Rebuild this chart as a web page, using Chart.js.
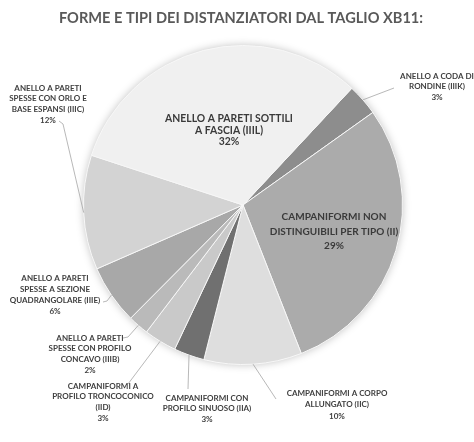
<!DOCTYPE html>
<html>
<head>
<meta charset="utf-8">
<script src="https://cdn.jsdelivr.net/npm/chart.js@4.4.1/dist/chart.umd.min.js"></script>
<style>
  html, body { margin: 0; padding: 0; background: #fff; }
  #wrap { width: 474px; height: 442px; }
</style>
</head>
<body>
<div id="wrap"><canvas id="pie"></canvas></div>
<script>
const titleText = "FORME E TIPI DEI DISTANZIATORI DAL TAGLIO XB11:";

// slices in clockwise order, starting from the small dark one on the upper right
const categories = [
  ["ANELLO A CODA DI", "RONDINE (IIIK)"],
  ["CAMPANIFORMI NON", "DISTINGUIBILI PER TIPO (II)"],
  ["CAMPANIFORMI A CORPO", "ALLUNGATO (IIC)"],
  ["CAMPANIFORMI CON", "PROFILO SINUOSO (IIA)"],
  ["CAMPANIFORMI A", "PROFILO TRONCOCONICO", "(IID)"],
  ["ANELLO A PARETI", "SPESSE CON PROFILO", "CONCAVO (IIIB)"],
  ["ANELLO A PARETI", "SPESSE A SEZIONE", "QUADRANGOLARE (IIIE)"],
  ["ANELLO A PARETI", "SPESSE CON ORLO E", "BASE ESPANSI (IIIC)"],
  ["ANELLO A PARETI SOTTILI", "A FASCIA (IIIL)"],
];
const shares = [3.2, 28.9, 9.9, 3.1, 3.3, 2.1, 6.0, 11.6, 31.9];

const sliceColors = [
  "#8d8d8d", "#ababab", "#dedede", "#707070", "#c9c9c9",
  "#bababa", "#a8a8a8", "#d3d3d3", "#f0f0f0",
];

// where each label sits; leader lines run from the slice edge to the last point
const labelLayout = [
  { x: 437, y: 76, lh: 10.5, leader: [[394, 88]] },
  { x: 334, y: 217, lh: 14.5, inside: true, size: 10 },
  { x: 337, y: 393, lh: 11.5, leader: [[276, 399]] },
  { x: 207, y: 398, lh: 10.5, leader: [[188, 389]] },
  { x: 103, y: 386, lh: 10.7, leader: [[128, 384]] },
  { x: 90, y: 338, lh: 10.7, leader: [[123, 338], [128, 337]] },
  { x: 55, y: 278, lh: 11, leader: [[103, 302], [107, 301]] },
  { x: 48, y: 88, lh: 10.7, leader: [[59, 121], [63, 124]] },
  { x: 229, y: 119, lh: 11.5, inside: true, size: 10.4 },
];

const pieBacking = {
  id: "pieBacking",
  beforeDatasetsDraw(chart) {
    const arc = chart.getDatasetMeta(0).data[0];
    const ctx = chart.ctx;
    ctx.save();
    ctx.shadowColor = "rgba(0,0,0,0.25)";
    ctx.shadowBlur = 8;
    ctx.fillStyle = "#dddddd";
    ctx.beginPath();
    ctx.arc(arc.x, arc.y, arc.outerRadius, 0, Math.PI * 2);
    ctx.fill();
    ctx.restore();
  },
};

const sliceLabels = {
  id: "sliceLabels",
  afterDraw(chart) {
    const ctx = chart.ctx;
    const meta = chart.getDatasetMeta(0);

    ctx.save();
    ctx.fillStyle = "#595959";
    ctx.font = "bold 14.6px Lato, sans-serif";
    ctx.textAlign = "center";
    ctx.textBaseline = "middle";
    ctx.fillText(titleText, 241, 18);

    meta.data.forEach((arc, i) => {
      const lay = labelLayout[i];
      const lines = categories[i].concat([Math.round(shares[i]) + "%"]);

      if (lay.leader) {
        const mid = (arc.startAngle + arc.endAngle) / 2;
        ctx.strokeStyle = "#a6a6a6";
        ctx.lineWidth = 0.8;
        ctx.beginPath();
        ctx.moveTo(arc.x + Math.cos(mid) * arc.outerRadius, arc.y + Math.sin(mid) * arc.outerRadius);
        lay.leader.slice().reverse().forEach(p => ctx.lineTo(p[0], p[1]));
        ctx.stroke();
      }

      ctx.fillStyle = lay.inside ? "#3a3a3a" : "#404040";
      ctx.font = lay.inside
        ? "bold " + lay.size + "px Lato, sans-serif"
        : "bold 8px Lato, sans-serif";
      lines.forEach((t, k) => ctx.fillText(t, lay.x, lay.y + k * lay.lh));
    });
    ctx.restore();
  },
};

new Chart(document.getElementById("pie"), {
  type: "pie",
  data: {
    labels: categories.map(c => c.join(" ")),
    datasets: [{
      data: shares,
      backgroundColor: sliceColors,
      borderColor: "#f7f7f7",
      borderWidth: 1,
    }],
  },
  options: {
    responsive: true,
    maintainAspectRatio: false,
    animation: false,
    rotation: 43,
    layout: { padding: { top: 45, bottom: 77, left: 83, right: 71 } },
    plugins: {
      legend: { display: false },
      tooltip: { enabled: false },
    },
  },
  plugins: [pieBacking, sliceLabels],
});
</script>
</body>
</html>
